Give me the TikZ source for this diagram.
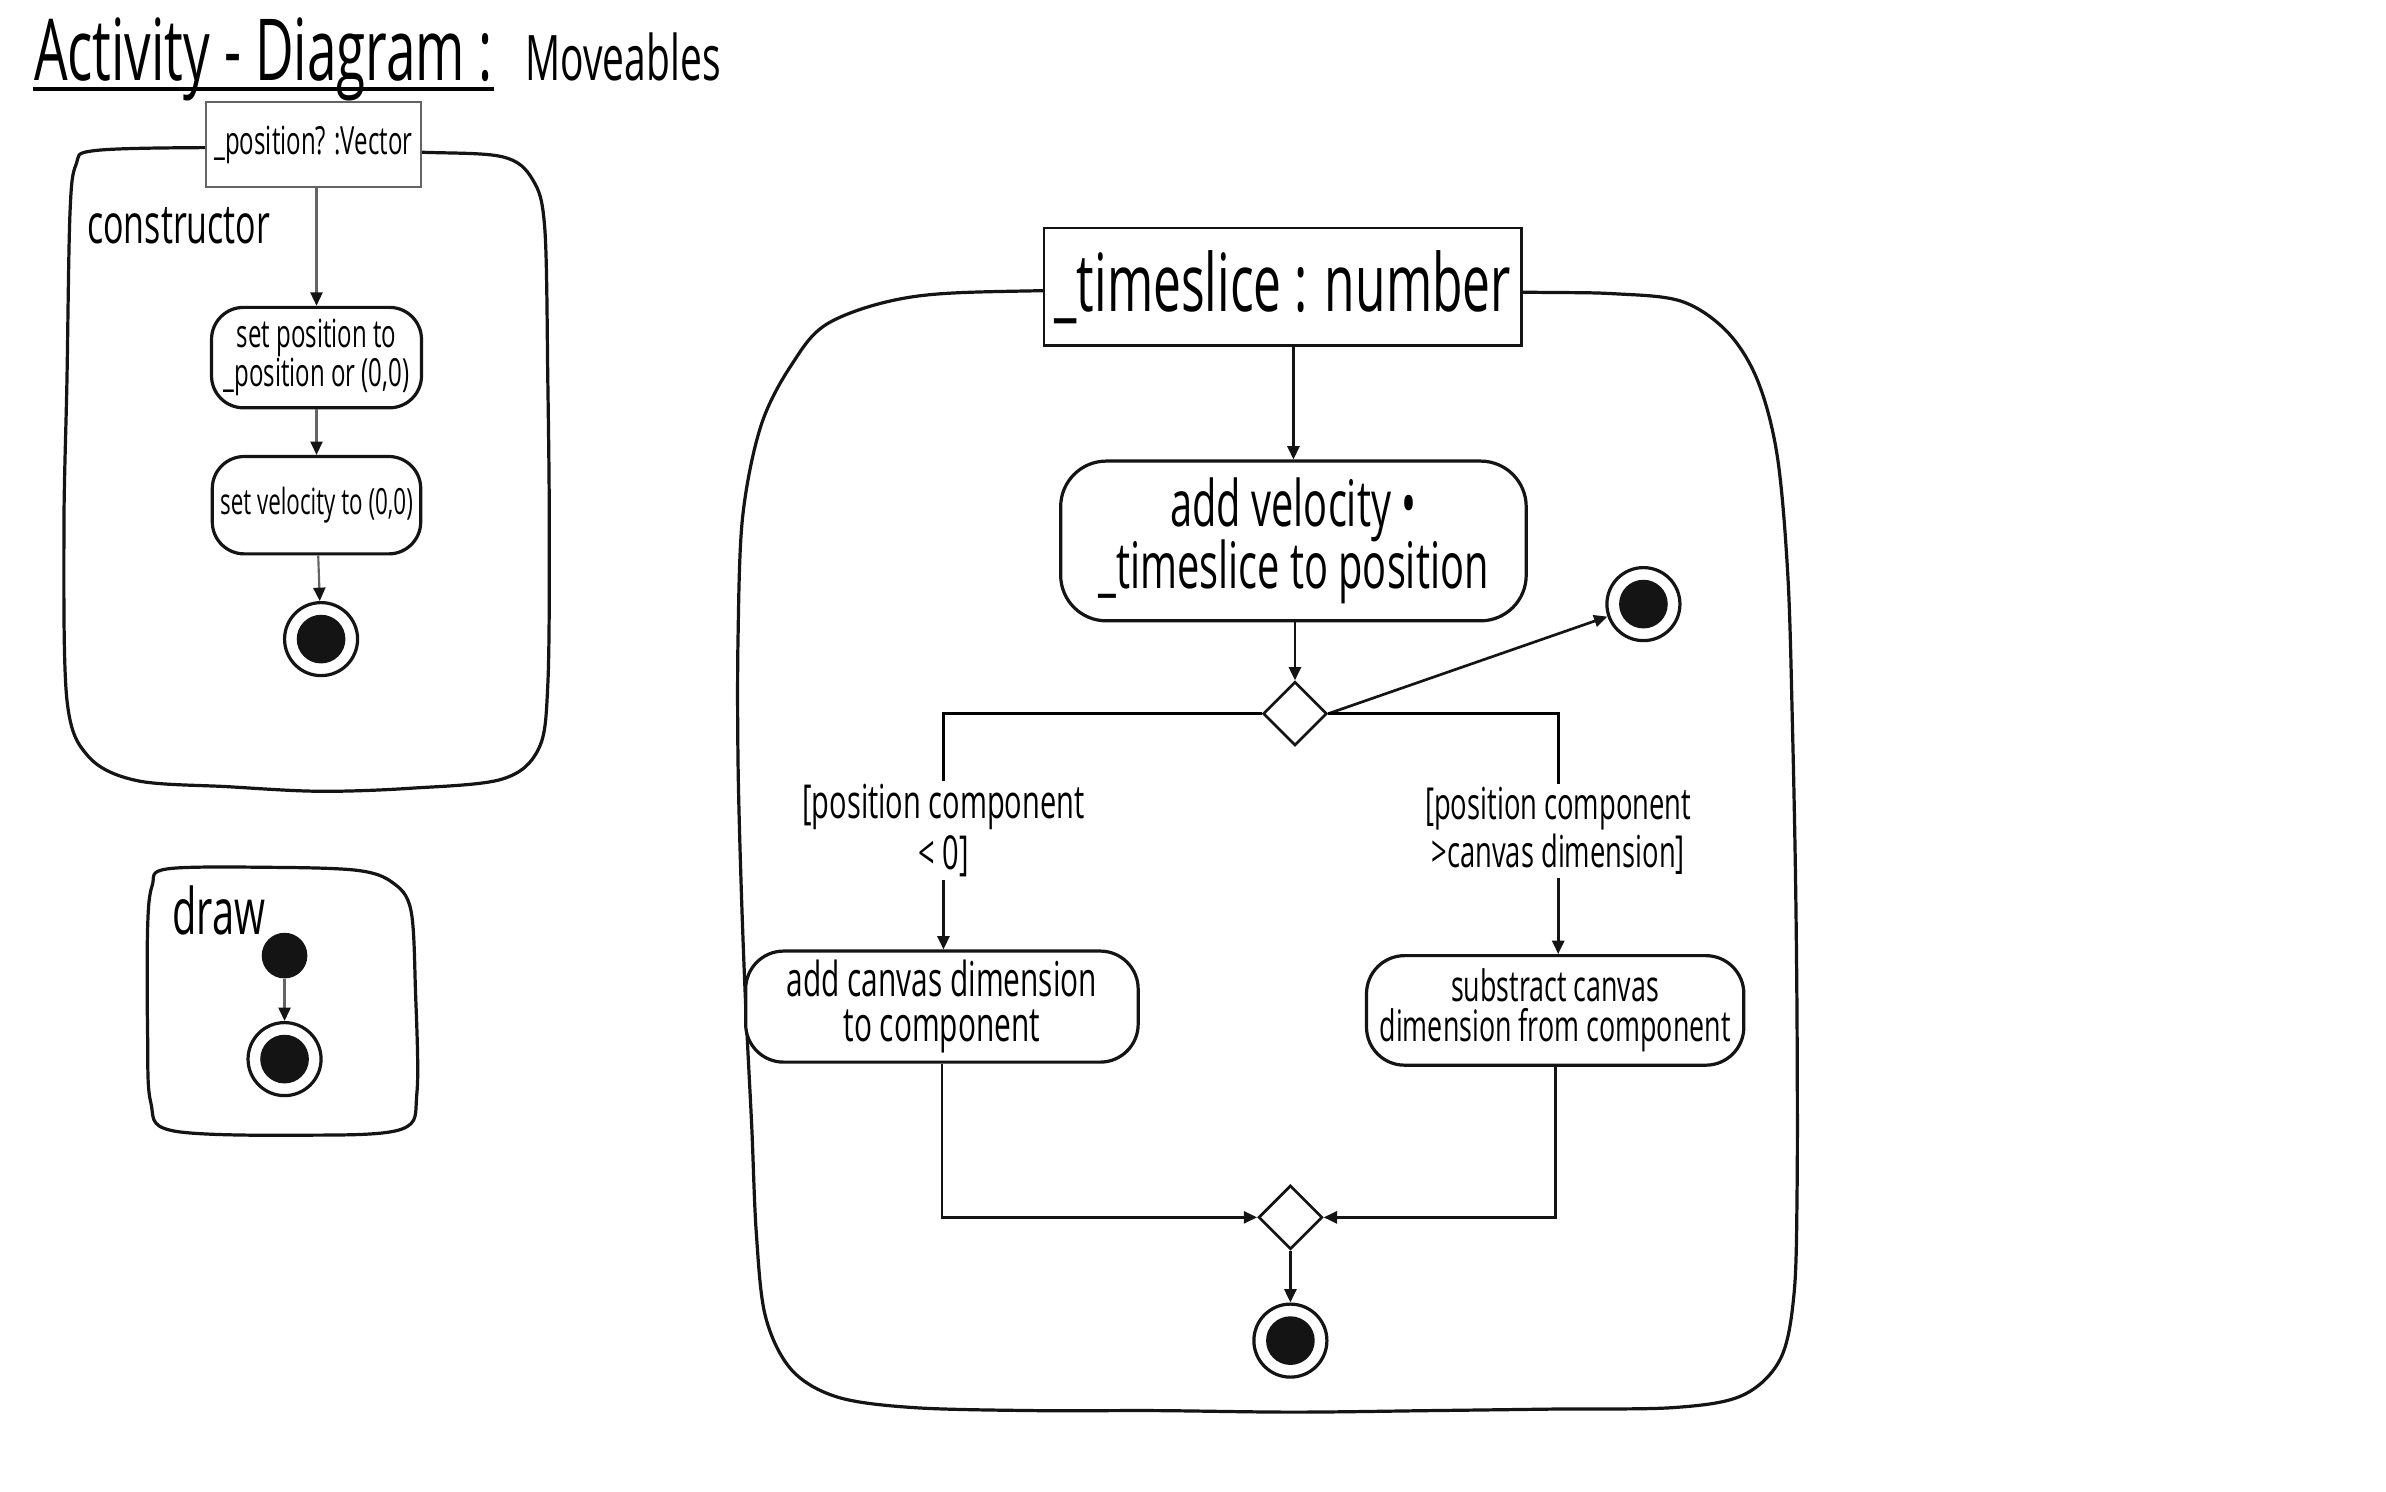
\documentclass[tikz,border=0pt]{standalone}
\usepackage{fontspec}
\setmainfont{Open Sans}[FakeStretch=0.62]
\usetikzlibrary{arrows.meta,shapes.geometric}

\newcommand{\handfont}[2]{\fontsize{#1}{#2}\selectfont\lineskiplimit=-\maxdimen}

\begin{document}
\begin{tikzpicture}[x=0.02cm, y=-0.02cm, >={Triangle[length=5pt,width=4.5pt]}]

% Colors
\definecolor{inkline}{RGB}{20,20,20}
\definecolor{softline}{RGB}{100,100,100}

% Styles
\tikzset{
  region/.style={
    draw=inkline,
    line width=1.2pt,
    line join=round
  },
  param/.style={
    rectangle,
    draw=inkline,
    fill=white,
    line width=0.9pt,
    inner sep=2pt
  },
  action/.style={
    rectangle,
    rounded corners=0.42cm,
    draw=inkline,
    fill=white,
    line width=1.2pt,
    align=center,
    inner sep=2pt
  },
  decision/.style={
    diamond,
    draw=inkline,
    fill=white,
    line width=1pt,
    minimum size=0.84cm,
    inner sep=0pt
  },
  startnode/.style={
    circle,
    fill=inkline,
    minimum size=0.6cm,
    inner sep=0pt
  },
  endnode/.style={
    circle,
    draw=inkline,
    fill=white,
    line width=1.2pt,
    minimum size=0.96cm,
    inner sep=0pt,
    path picture={\fill[inkline] (path picture bounding box.center) circle (0.32cm);}
  },
  guard/.style={
    align=center,
    inner sep=1pt
  },
  flow/.style={
    ->,
    line width=1pt,
    draw=inkline
  },
  thinflow/.style={
    -{Triangle[length=5pt,width=4.5pt,color=inkline]},
    line width=0.8pt,
    draw=softline
  }
}

\fill[white] (0,0) rectangle (1568,980);
\useasboundingbox (0,0) rectangle (1568,980);

% Title
\node[anchor=base west, inner sep=0pt, font={\handfont{32}{34}}] (title) at (22,53) {Activity - Diagram :};
\draw[line width=1.6pt] ([yshift=-3pt]title.base west) -- ([yshift=-3pt]title.base east);
\node[anchor=base west, inner sep=0pt, font={\handfont{23.5}{26}}] (subject) at (345,53) {Moveables};

% ----------------------------
% constructor
% ----------------------------
\draw[region] plot[smooth cycle, tension=0.55] coordinates {
  (62,99) (135,97) (210,98) (276,100) (330,103) (350,118) (358,150)
  (360,250) (361,350) (360,450) (354,492) (330,512) (270,518) (210,520)
  (150,517) (90,513) (58,497) (44,460) (42,350) (44,250) (46,140) (50,108)};

\node[param, draw=softline, minimum width=2.82cm, minimum height=1.12cm, font={\handfont{14.5}{16}}] (ctorparam) at (206,95) {\_position? :Vector};
\node[anchor=west, inner sep=0pt, font={\handfont{20.5}{22}}] (ctorlabel) at (57,148) {constructor};

\node[action, minimum width=2.76cm, minimum height=1.32cm, font={\handfont{14.5}{14.5}}] (setpos) at (208,235) {set position to\\ \_position or (0,0)};
\node[action, minimum width=2.74cm, minimum height=1.28cm, font={\handfont{13.5}{14}}] (setvel) at (208,332) {set velocity to (0,0)};
\node[endnode] (ctorend) at (211,420) {};

\draw[thinflow] (ctorparam.south -| setpos.north) -- (setpos.north);
\draw[thinflow] (setpos) -- (setvel);
\draw[thinflow] (setvel) -- (ctorend);

% ----------------------------
% draw
% ----------------------------
\draw[region] plot[smooth cycle, tension=0.55] coordinates {
  (110,571) (180,570) (235,572) (258,580) (270,598) (273,650) (274,718)
  (264,742) (200,746) (113,743) (99,724) (97,680) (97,610) (100,582)};

\node[anchor=west, inner sep=0pt, font={\handfont{24}{26}}] (drawlabel) at (113,598) {draw};
\node[startnode] (drawstart) at (187,628) {};
\node[endnode] (drawend) at (187,696) {};

\draw[thinflow] (drawstart) -- (drawend);

% ----------------------------
% update (timeslice)
% ----------------------------
\draw[region] plot[smooth cycle, tension=0.55] coordinates {
  (600,195) (686,191) (843,190) (1000,192) (1060,193) (1105,198)
  (1135,218) (1155,250) (1168,300) (1175,380) (1178,480) (1180,580)
  (1181,680) (1181,780) (1179,850) (1170,893) (1145,917) (1100,925)
  (1020,926) (940,927) (850,928) (760,927) (680,927) (600,925)
  (550,918) (520,900) (503,865) (497,810) (494,740) (490,660)
  (487,580) (485,500) (485,420) (488,340) (500,280) (520,240) (545,212)};

\node[param, minimum width=6.28cm, minimum height=1.54cm, font={\handfont{30}{32}}] (tsparam) at (843,188.5) {\_timeslice : number};
\node[action, rounded corners=0.6cm, minimum width=6.12cm, minimum height=2.1cm, font={\handfont{24}{23}}] (addvel) at (850,355.5) {add velocity •\\ \_timeslice to position};
\node[decision] (decide) at (851,469) {};
\node[endnode] (mainend1) at (1080,397) {};

\node[guard, font={\handfont{17.5}{19}}] (guardlow) at (620,546) {[position component\\ < 0]};
\node[guard, font={\handfont{16.5}{18}}] (guardhigh) at (1024,546) {[position component\\ >canvas dimension]};

\node[action, rounded corners=0.5cm, minimum width=5.16cm, minimum height=1.46cm, font={\handfont{18}{17}}] (addcanvas) at (619,661.5) {add canvas dimension\\ to component};
\node[action, rounded corners=0.5cm, minimum width=4.96cm, minimum height=1.44cm, font={\handfont{16.2}{15}}] (subcanvas) at (1022,664) {substract canvas\\ dimension from component};

\node[decision] (merge) at (848,800) {};
\node[endnode] (mainend2) at (848,881) {};

% Connectors
\draw[flow] (tsparam.south -| addvel.north) -- (addvel.north);
\draw[flow] (addvel.south -| decide.north) -- (decide.north);
\draw[flow] (decide.east) -- (mainend1);

\draw[line width=1pt] (decide.west) -| (guardlow.north);
\draw[flow] (guardlow.south) -- (guardlow.south |- addcanvas.north);
\draw[line width=1pt] (decide.east) -| (guardhigh.north);
\draw[flow] (guardhigh.south) -- (guardhigh.south |- subcanvas.north);

\draw[flow] (addcanvas.south) |- (merge.west);
\draw[flow] (subcanvas.south) |- (merge.east);
\draw[flow] (merge) -- (mainend2);

\end{tikzpicture}
\end{document}
